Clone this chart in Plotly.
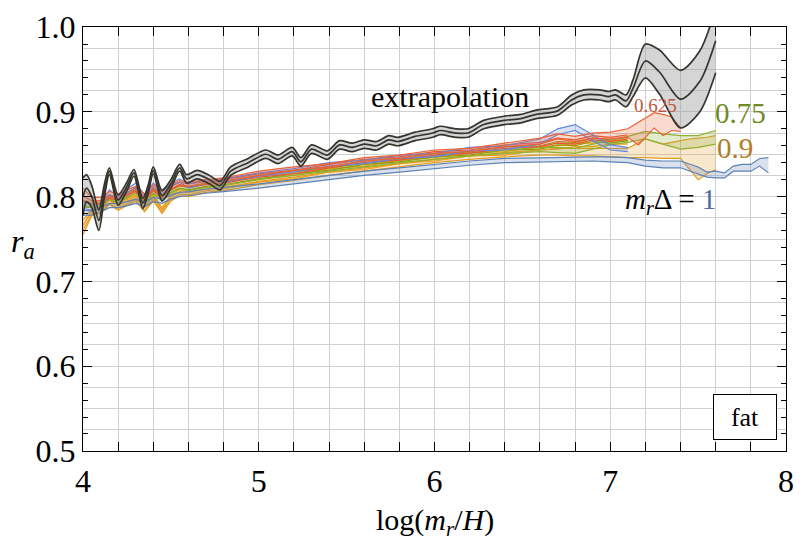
import plotly.graph_objects as go

# ---------------- data ----------------
X_MAIN = [4.0, 4.05, 4.1, 4.15, 4.2, 4.25, 4.3, 4.35, 4.4, 4.45, 4.5, 4.55, 4.6, 4.7, 4.8,
          5.0, 5.2, 5.4, 5.6, 5.8, 6.0, 6.2, 6.4, 6.6, 6.7, 6.8, 6.9, 7.0, 7.1]

# m_r*Delta = 0.625 (red)
A_LO = [.796, .791, .792, .800, .797, .802, .807, .798, .809, .801, .809, .814, .812, .815, .818,
        .825, .831, .835, .842, .845, .851, .853, .859, .862, .868, .865, .869, .868, .870]
A_HI = [.810, .799, .799, .806, .803, .808, .812, .803, .814, .806, .814, .819, .817, .820, .822,
        .830, .835, .839, .846, .849, .855, .857, .863, .869, .874, .871, .875, .876, .880]
A_TX = [7.16, 7.2, 7.25, 7.3, 7.35, 7.4]
A_TLO = [0.861, 0.870, 0.881, 0.872, 0.878, 0.877]
A_THI = [0.888, 0.893, 0.899, 0.897, 0.894, 0.881]

# 0.65 (light blue)
B_LO = [.786, .784, .787, .802, .795, .804, .811, .797, .811, .803, .812, .817, .810, .815, .817,
        .824, .829, .836, .839, .845, .847, .854, .855, .862, .873, .878, .866, .855, .853]
B_HI = [.794, .790, .792, .808, .800, .809, .816, .802, .816, .808, .816, .821, .815, .820, .821,
        .828, .833, .840, .843, .849, .851, .858, .860, .868, .880, .885, .873, .861, .858]

# 0.675 (red 2)
C_LO = [.795, .790, .791, .798, .796, .801, .806, .795, .807, .798, .808, .813, .811, .814, .816,
        .823, .827, .834, .840, .843, .849, .851, .857, .859, .863, .862, .867, .865, .868]
C_HI = [.801, .795, .795, .802, .800, .805, .810, .799, .811, .802, .812, .817, .815, .818, .820,
        .827, .831, .838, .844, .847, .853, .855, .861, .864, .869, .867, .872, .870, .873]

# 0.7 (olive)
D_LO = [.788, .787, .788, .796, .793, .798, .804, .793, .804, .796, .805, .810, .808, .812, .814,
        .821, .827, .831, .838, .841, .847, .849, .855, .856, .861, .860, .865, .863, .866]
D_HI = [.794, .791, .792, .800, .797, .802, .808, .797, .808, .800, .809, .814, .812, .816, .818,
        .825, .831, .835, .842, .845, .851, .853, .859, .860, .865, .864, .869, .867, .870]

# 0.75 (green)
E_LO = [.790, .787, .789, .797, .794, .799, .804, .792, .803, .795, .804, .809, .807, .811, .813,
        .820, .825, .830, .835, .840, .844, .848, .851, .853, .852, .851, .856, .861, .864]
E_HI = [.796, .792, .793, .801, .798, .803, .808, .796, .807, .799, .808, .813, .811, .815, .817,
        .824, .829, .834, .839, .844, .848, .852, .855, .858, .858, .857, .862, .867, .871]
E_TX = [7.2, 7.3, 7.4, 7.5, 7.6]
E_TLO = [0.868, 0.862, 0.856, 0.858, 0.862]
E_THI = [0.877, 0.874, 0.872, 0.872, 0.878]

# 0.8 (orange)
F_LO = [.760, .780, .782, .792, .786, .792, .797, .783, .797, .782, .797, .803, .802, .807, .809,
        .817, .821, .829, .832, .839, .842, .848, .849, .855, .856, .859, .859, .862, .862]
F_HI = [.772, .786, .787, .797, .791, .797, .802, .788, .802, .787, .802, .808, .807, .811, .813,
        .821, .825, .833, .836, .843, .846, .852, .853, .859, .860, .863, .863, .866, .866]

# 0.9 (dark orange)
G_LO = [.755, .778, .780, .791, .784, .790, .795, .782, .795, .780, .795, .801, .800, .805, .807,
        .814, .819, .825, .830, .835, .840, .844, .847, .849, .849, .848, .848, .847, .846]
G_HI = [.766, .784, .785, .796, .789, .795, .800, .787, .800, .785, .800, .806, .805, .809, .811,
        .818, .823, .829, .834, .839, .844, .848, .852, .855, .857, .857, .857, .857, .857]
G_TX = [7.2, 7.3, 7.4, 7.45, 7.5, 7.55, 7.6]
G_TLO = [0.846, 0.845, 0.845, 0.832, 0.820, 0.827, 0.832]
G_THI = [0.868, 0.862, 0.866, 0.868, 0.869, 0.870, 0.872]

# 1 (blue)
H_LO = [.778, .778, .782, .787, .787, .789, .792, .788, .794, .792, .797, .800, .801, .804, .806,
        .810, .815, .820, .825, .829, .833, .837, .840, .841, .841, .842, .842, .841, .840]
H_HI = [.784, .783, .787, .792, .792, .794, .797, .793, .799, .797, .802, .805, .806, .809, .811,
        .815, .820, .825, .830, .834, .838, .842, .845, .846, .846, .847, .847, .847, .846]
H_TX = [7.2, 7.3, 7.4, 7.5, 7.55, 7.6, 7.65, 7.7, 7.75, 7.8, 7.85, 7.9]
H_TLO = [0.836, 0.834, 0.834, 0.827, 0.823, 0.822, 0.822, 0.830, 0.830, 0.830, 0.836, 0.828]
H_THI = [0.843, 0.842, 0.842, 0.835, 0.829, 0.830, 0.828, 0.836, 0.838, 0.838, 0.845, 0.846]

# extrapolation
EX = [4.0, 4.02, 4.05, 4.09, 4.12, 4.15, 4.2, 4.25, 4.29, 4.34, 4.37, 4.4, 4.45, 4.5, 4.55,
      4.59, 4.65, 4.72, 4.78, 4.84, 4.94, 5.04, 5.11, 5.19, 5.24, 5.3, 5.39, 5.46, 5.53, 5.6,
      5.67, 5.74, 5.79, 5.89, 5.99, 6.03, 6.12, 6.19, 6.28, 6.4, 6.49, 6.58, 6.7, 6.78, 6.85,
      6.94, 6.99, 7.03, 7.09, 7.13, 7.2, 7.28, 7.4, 7.51, 7.6]
EC = [0.800, 0.810, 0.800, 0.772, 0.805, 0.830, 0.796, 0.812, 0.828, 0.792, 0.808, 0.831, 0.801,
      0.815, 0.834, 0.821, 0.826, 0.820, 0.813, 0.830, 0.840, 0.850, 0.844, 0.853, 0.841, 0.856,
      0.849, 0.861, 0.858, 0.862, 0.860, 0.867, 0.865, 0.871, 0.875, 0.878, 0.875, 0.875, 0.885,
      0.890, 0.892, 0.897, 0.901, 0.914, 0.920, 0.920, 0.918, 0.920, 0.913, 0.928, 0.960, 0.947,
      0.915, 0.936, 0.984]
EH = [0.022, 0.016, 0.013, 0.012, 0.008, 0.004, 0.006, 0.005, 0.004, 0.006, 0.005, 0.004, 0.006,
      0.005, 0.004, 0.005, 0.005, 0.005, 0.005, 0.005, 0.005, 0.005, 0.005, 0.005, 0.005, 0.005,
      0.005, 0.005, 0.005, 0.005, 0.005, 0.005, 0.005, 0.005, 0.005, 0.005, 0.005, 0.005, 0.005,
      0.005, 0.005, 0.005, 0.005, 0.006, 0.006, 0.006, 0.006, 0.006, 0.007, 0.010, 0.020, 0.026,
      0.034, 0.036, 0.038]

SERIES = [
    ("0.8", "#F89F13", F_LO, F_HI, [], [], []),
    ("0.7", "#929600", D_LO, D_HI, [], [], []),
    ("0.9", "#E19C24", G_LO, G_HI, G_TX, G_TLO, G_THI),
    ("0.75", "#8FB032", E_LO, E_HI, E_TX, E_TLO, E_THI),
    ("0.675", "#E95536", C_LO, C_HI, [], [], []),
    ("0.65", "#6685D9", B_LO, B_HI, [], [], []),
    ("0.625", "#EB6235", A_LO, A_HI, A_TX, A_TLO, A_THI),
    ("1", "#5E81B5", H_LO, H_HI, H_TX, H_TLO, H_THI),
]

FONT = "Liberation Serif, Times New Roman, serif"


def rgba(h, a):
    h = h.lstrip("#")
    r, g, b = int(h[0:2], 16), int(h[2:4], 16), int(h[4:6], 16)
    return f"rgba({r},{g},{b},{a})"


fig = go.Figure()

for name, col, lo, hi, tx, tlo, thi in SERIES:
    xs = X_MAIN + tx
    fig.add_trace(go.Scatter(x=xs, y=lo + tlo, mode="lines", line=dict(color=col, width=1.2),
                             showlegend=False, hoverinfo="skip"))
    fig.add_trace(go.Scatter(x=xs, y=hi + thi, mode="lines", line=dict(color=col, width=1.2),
                             fill="tonexty", fillcolor=rgba(col, 0.24),
                             showlegend=False, hoverinfo="skip"))

e_lo = [c - h for c, h in zip(EC, EH)]
e_hi = [c + h for c, h in zip(EC, EH)]
ecol = "#35352d"
espline = dict(color=ecol, width=1.7, shape="spline", smoothing=0.8)
fig.add_trace(go.Scatter(x=EX, y=e_lo, mode="lines", line=espline, showlegend=False, hoverinfo="skip"))
fig.add_trace(go.Scatter(x=EX, y=e_hi, mode="lines", line=espline, fill="tonexty",
                         fillcolor="rgba(150,150,150,0.40)", showlegend=False, hoverinfo="skip"))
fig.add_trace(go.Scatter(x=EX, y=EC, mode="lines", line=espline, showlegend=False, hoverinfo="skip"))

# invisible trace that carries the 0.025-step grid axis
fig.add_trace(go.Scatter(x=[4], y=[0.5], yaxis="y2", mode="markers", marker=dict(opacity=0),
                         showlegend=False, hoverinfo="skip"))

grid = "#d0d0d0"
YR = [0.4999, 1.0001]
fig.update_layout(
    width=803, height=543,
    margin=dict(l=83, r=9, t=11, b=92),
    plot_bgcolor="white", paper_bgcolor="white",
    font=dict(family=FONT, color="black"),
    xaxis=dict(range=[4, 8], tickvals=[4, 5, 6, 7, 8], ticks="inside", ticklen=9, tickwidth=1,
               tickcolor="black", showline=True, linecolor="black", linewidth=1.3, mirror="allticks",
               showgrid=True, gridcolor=grid, gridwidth=1, zeroline=False,
               tickfont=dict(family=FONT, size=32, color="black"), ticklabelstandoff=1,
               ticklabeloverflow="allow",
               minor=dict(dtick=0.2, ticklen=5, ticks="inside", tickcolor="black", showgrid=True,
                          gridcolor=grid, gridwidth=1)),
    yaxis=dict(range=YR, tickvals=[0.5, 0.6, 0.7, 0.8, 0.9, 1.0],
               ticktext=["0.5", "0.6", "0.7", "0.8", "0.9", "1.0"], ticks="inside", ticklen=9,
               tickwidth=1, tickcolor="black", showline=True, linecolor="black", linewidth=1.3,
               mirror="allticks", showgrid=False, zeroline=False,
               tickfont=dict(family=FONT, size=32, color="black"), ticklabelstandoff=0,
               ticklabeloverflow="allow",
               minor=dict(tick0=0.5, dtick=0.02, ticklen=5, ticks="inside", tickcolor="black",
                          showgrid=False)),
    yaxis2=dict(range=YR, overlaying="y", side="left", tick0=0.5, dtick=0.025, showgrid=True,
                gridcolor=grid, gridwidth=1, showticklabels=False, ticks="", zeroline=False,
                showline=False),
)

ann = []
ann.append(dict(x=6.09, y=0.918, xref="x", yref="y", text="extrapolation", showarrow=False,
                xanchor="center", yanchor="middle", font=dict(family=FONT, size=30, color="black")))
ann.append(dict(x=7.26, y=0.908, xref="x", yref="y", text="0.625", showarrow=False,
                xanchor="center", yanchor="middle", font=dict(family=FONT, size=19, color="#C0553F")))
ann.append(dict(x=7.74, y=0.899, xref="x", yref="y", text="0.75", showarrow=False,
                xanchor="center", yanchor="middle", font=dict(family=FONT, size=29, color="#6E8B24")))
ann.append(dict(x=7.71, y=0.857, xref="x", yref="y", text="0.9", showarrow=False,
                xanchor="center", yanchor="middle", font=dict(family=FONT, size=29, color="#B07D1F")))
ann.append(dict(x=7.34, y=0.795, xref="x", yref="y",
                text="<i>m</i><sub><i>r</i></sub>Δ = <span style='color:#4F6C9E'>1</span>",
                showarrow=False, xanchor="center", yanchor="middle",
                font=dict(family=FONT, size=29, color="black")))
ann.append(dict(x=0.941, y=0.08, xref="paper", yref="paper", text="fat", showarrow=False,
                xanchor="center", yanchor="middle",
                width=60, height=42, bordercolor="black", borderwidth=1, bgcolor="white",
                font=dict(family=FONT, size=26, color="black")))
ann.append(dict(x=-0.086, y=0.49, xref="paper", yref="paper",
                text="<i>r</i><sub><i>a</i></sub>", showarrow=False,
                xanchor="center", yanchor="middle",
                font=dict(family=FONT, size=32, color="black")))
ann.append(dict(x=0.5, y=-0.168, xref="paper", yref="paper",
                text="log(<i>m</i><sub><i>r</i></sub>/<i>H</i>)", showarrow=False,
                xanchor="center", yanchor="middle",
                font=dict(family=FONT, size=30, color="black")))
fig.update_layout(annotations=ann)

fig.write_html("out.html", config={"displayModeBar": False},
               post_script="document.body.style.margin='0px';document.body.style.overflow='hidden';")
